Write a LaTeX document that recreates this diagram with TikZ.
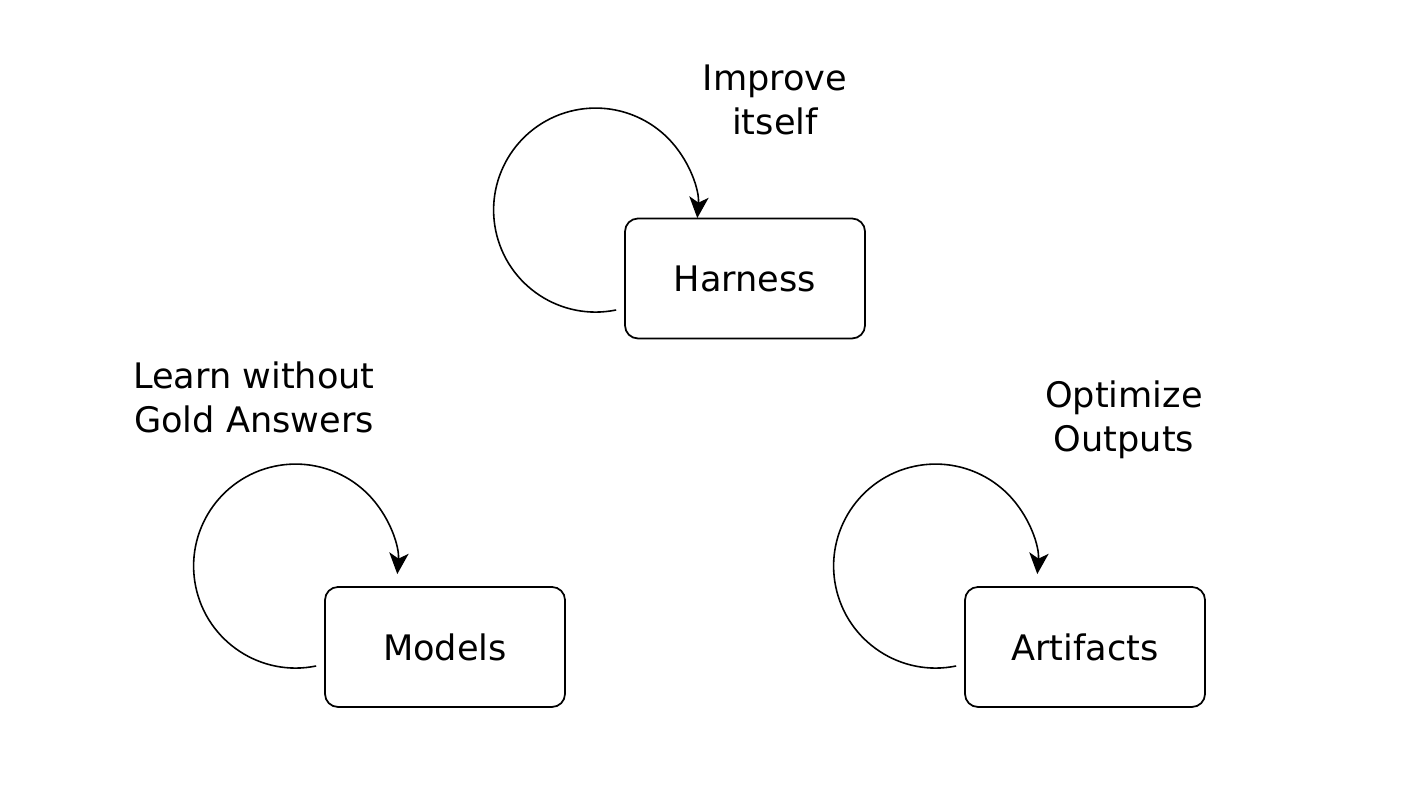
\documentclass[tikz,border=0pt]{standalone}
\usepackage{fontspec}
\setmainfont{DejaVu Sans}
\usetikzlibrary{arrows.meta}

\begin{document}
\begin{tikzpicture}[
    box/.style={draw,line width=0.5pt,rounded corners=1.3mm,minimum width=2.4cm,minimum height=1.2cm,inner sep=0,font=\fontsize{10}{12.5}\selectfont},
    caption/.style={align=center,inner sep=0,font=\fontsize{10}{12.5}\selectfont},
    selfloop/.style={line width=0.45pt,-{Stealth[length=6pt,width=5.5pt,inset=1.6pt]}}
]
    \pgfmathsetmacro{\loopradius}{1.02}
    \pgfmathsetmacro{\loopstart}{281.6}
    \pgfmathsetmacro{\loopend}{-4.5}
    \useasboundingbox (0,0) rectangle (14.14,7.94);
    \node[box](harness) at (7.45,5.155){Harness};
    \node[box](models) at (4.45,1.47){Models};
    \node[box](artifacts) at (10.85,1.47){Artifacts};
    \node[caption](improve) at (7.75,6.94){Improve\\itself};
    \node[caption](learn) at (2.54,3.97){Learn without\\Gold Answers};
    \node[caption](optimize) at (11.24,3.74){Optimize\\Outputs};
    \draw[selfloop] ([xshift=-0.8mm,yshift=-3.15mm]harness.west) arc[start angle=\loopstart,end angle=\loopend,radius=\loopradius];
    \draw[selfloop] ([xshift=-0.8mm,yshift=-1.9mm]models.west) arc[start angle=\loopstart,end angle=\loopend,radius=\loopradius];
    \draw[selfloop] ([xshift=-0.8mm,yshift=-1.9mm]artifacts.west) arc[start angle=\loopstart,end angle=\loopend,radius=\loopradius];
\end{tikzpicture}
\end{document}
